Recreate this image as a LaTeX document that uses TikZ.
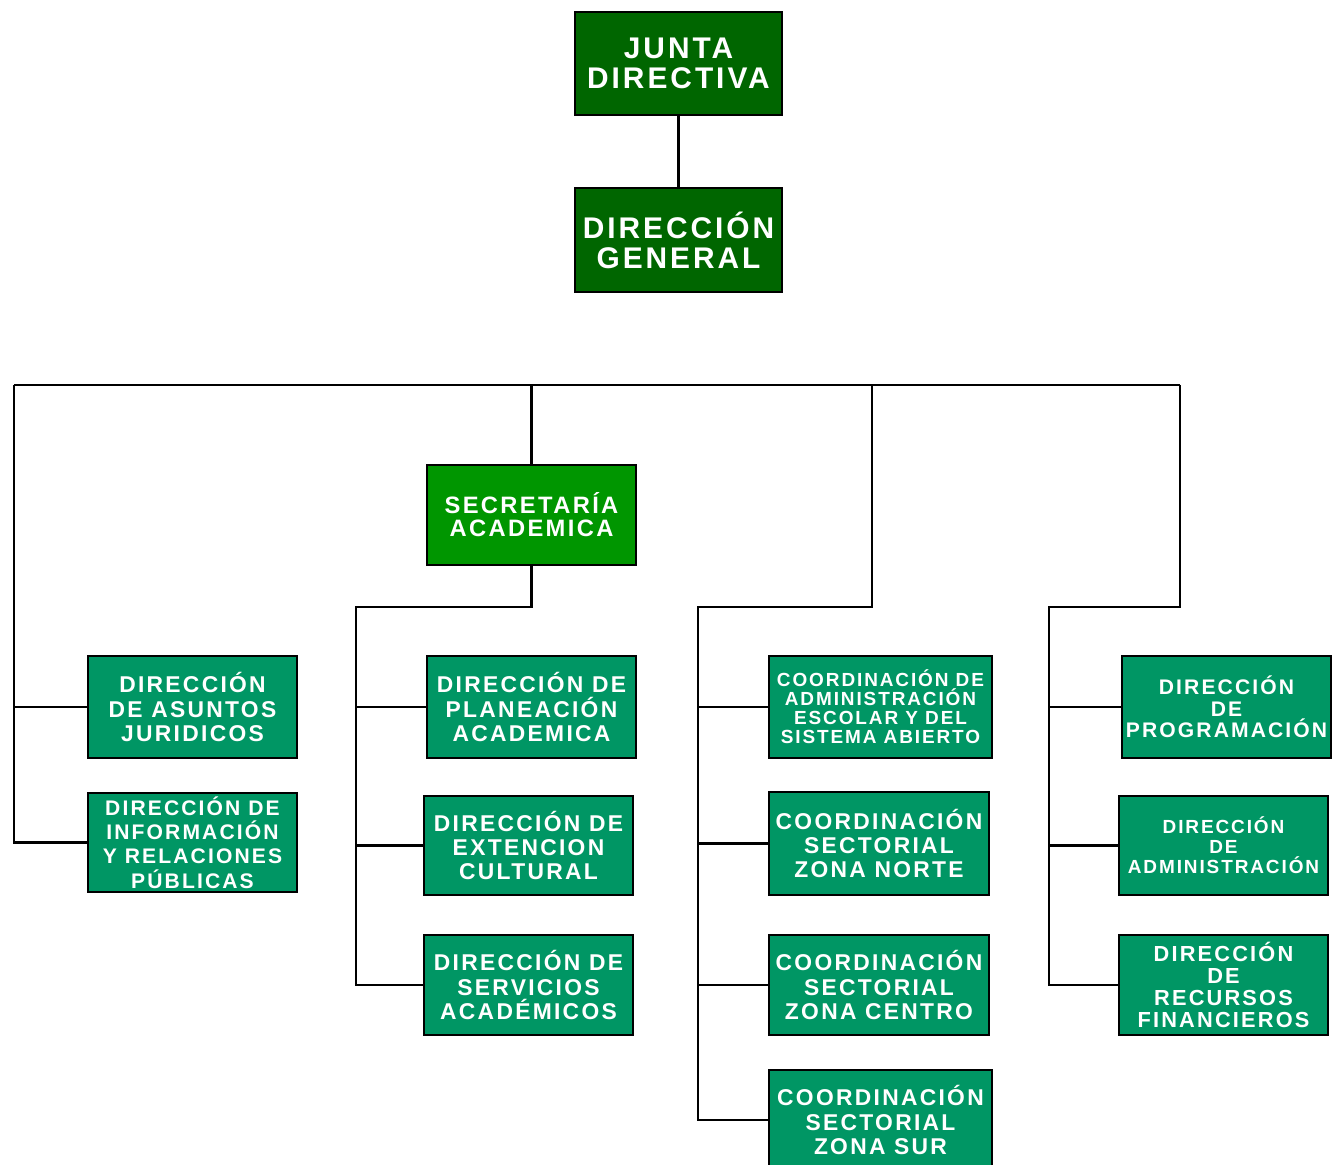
\documentclass[tikz,border=0pt]{standalone}
\usepackage{fontspec}
\usepackage{tikz}
\newfontfamily\boxfont{Liberation Sans}[LetterSpace=10]
\definecolor{JuntaGreen}{RGB}{0,102,0}
\definecolor{SecGreen}{RGB}{0,150,0}
\definecolor{UnitGreen}{RGB}{0,150,100}

\begin{document}
\begin{tikzpicture}[x=0.02cm,y=-0.02cm,line width=1.3pt,
  box/.style n args={3}{rectangle,draw=black,fill=#1,minimum width=#2*0.02cm,minimum height=#3*0.02cm,inner sep=0pt,align=center,text=white,font=\boxfont\bfseries\fontsize{13}{13.8}\selectfont},
  fs/.style 2 args={font=\boxfont\bfseries\fontsize{#1}{#2}\selectfont}]
\useasboundingbox (0,0) rectangle (1333,1165);
\clip (0,0) rectangle (1333,1165);
\node[box={JuntaGreen}{207}{103},fs={17}{17}](junta) at (678.5,63.5) {JUNTA\\DIRECTIVA};
\node[box={JuntaGreen}{207}{104},fs={17}{17}](dirgen) at (678.5,240) {DIRECCIÓN\\GENERAL};
\node[box={SecGreen}{209}{100},fs={13.5}{13}](secacad) at (531.5,515) {SECRETARÍA\\ACADEMICA};
% columna izquierda
\node[box={UnitGreen}{209}{102}](asuntos) at (192.5,707) {DIRECCIÓN\\DE ASUNTOS\\JURIDICOS};
\node[box={UnitGreen}{209}{99},fs={12}{13.8}](info) at (192.5,842.5) {DIRECCIÓN DE\\INFORMACIÓN\\Y RELACIONES\\PÚBLICAS};
% secretaria academica
\node[box={UnitGreen}{209}{102}](planea) at (531.5,707) {DIRECCIÓN DE\\PLANEACIÓN\\ACADEMICA};
\node[box={UnitGreen}{209}{99}](extension) at (528.5,845.5) {DIRECCIÓN DE\\EXTENCION\\CULTURAL};
\node[box={UnitGreen}{209}{100}](servicios) at (528.5,985) {DIRECCIÓN DE\\SERVICIOS\\ACADÉMICOS};
% coordinaciones
\node[box={UnitGreen}{223}{102},fs={10.8}{10.8}](coadmin) at (880.5,707) {COORDINACIÓN DE\\ADMINISTRACIÓN\\ESCOLAR Y DEL\\SISTEMA ABIERTO};
\node[box={UnitGreen}{220}{103}](norte) at (879,843.5) {COORDINACIÓN\\SECTORIAL\\ZONA NORTE};
\node[box={UnitGreen}{220}{100}](centro) at (879,985) {COORDINACIÓN\\SECTORIAL\\ZONA CENTRO};
\node[box={UnitGreen}{223}{100}](sur) at (880.5,1120) {COORDINACIÓN\\SECTORIAL\\ZONA SUR};
% columna derecha
\node[box={UnitGreen}{209}{102},fs={12}{12.3}](program) at (1226.5,707) {DIRECCIÓN\\DE\\PROGRAMACIÓN};
\node[box={UnitGreen}{209}{99},fs={10.8}{11.3}](admin) at (1223.5,845.5) {DIRECCIÓN\\DE\\ADMINISTRACIÓN};
\node[box={UnitGreen}{209}{100},fs={12.4}{12.5}](recursos) at (1223.5,985) {DIRECCIÓN\\DE\\RECURSOS\\FINANCIEROS};

\coordinate (bar-l) at (14,385);
\coordinate (bar-r) at (1180,385);
\coordinate (drop-c) at (872,385);
\coordinate (bus-b) at (356,607);
\coordinate (bus-c) at (698,607);
\coordinate (bus-d) at (1049,607);

\draw (junta) -- (dirgen);
\draw (bar-l) -- (bar-r);
\draw (bar-l) |- (info.west);
\draw (asuntos.west) -- (asuntos.west -| bar-l);
\draw (secacad.north) -- (secacad.north |- bar-l);
\draw (secacad.south) |- (bus-b) |- (servicios.west);
\draw (drop-c) |- (bus-c) |- (sur.west);
\draw (bar-r) |- (bus-d) |- (recursos.west);
\foreach \n in {planea,extension}
   \draw (\n.west) -- (\n.west -| bus-b);
\foreach \n in {coadmin,norte,centro}
   \draw (\n.west) -- (\n.west -| bus-c);
\foreach \n in {program,admin}
   \draw (\n.west) -- (\n.west -| bus-d);
\end{tikzpicture}
\end{document}
